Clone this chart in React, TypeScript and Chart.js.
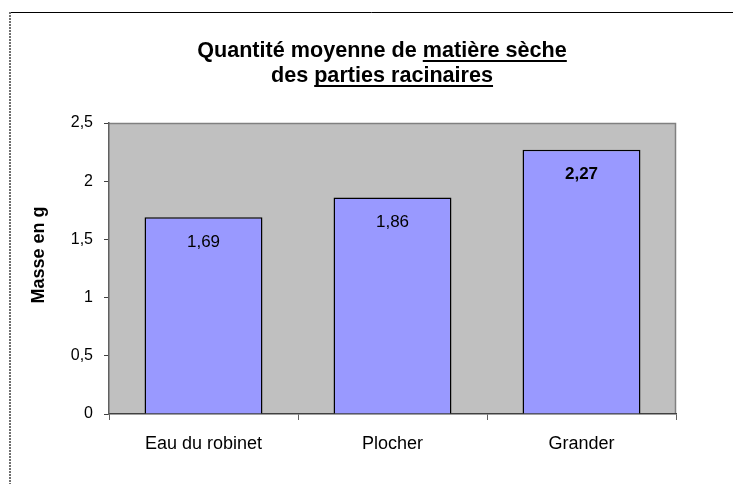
import React, { useEffect, useRef } from "react";
import { Chart, registerables } from "chart.js";

Chart.register(...registerables);

const categories = ["Eau du robinet", "Plocher", "Grander"];
const values = [1.69, 1.86, 2.27];
const valueLabels = ["1,69", "1,86", "2,27"];
const valueLabelBold = [false, false, true];
const yTickValues = [0, 0.5, 1, 1.5, 2, 2.5];
const yTickLabels = ["0", "0,5", "1", "1,5", "2", "2,5"];
const titleLine1 = [
  { text: "Quantité moyenne de ", underline: false },
  { text: "matière sèche", underline: true },
];
const titleLine2 = [
  { text: "des ", underline: false },
  { text: "parties racinaires", underline: true },
];
const yAxisTitle = "Masse en g";

const FONT = "'Liberation Sans', Arial, sans-serif";

const framePlugin = {
  id: "frame",
  beforeDraw(chart: any) {
    const { ctx, chartArea, width, height } = chart;
    ctx.save();
    ctx.fillStyle = "#ffffff";
    ctx.fillRect(0, 0, width, height);
    // outer frame: top black line, left gray dotted line
    ctx.strokeStyle = "#000000";
    ctx.lineWidth = 1;
    ctx.beginPath();
    ctx.moveTo(10, 12.5);
    ctx.lineTo(width, 12.5);
    ctx.stroke();
    ctx.strokeStyle = "#707070";
    ctx.lineWidth = 2;
    ctx.setLineDash([2, 1]);
    ctx.beginPath();
    ctx.moveTo(10, 12);
    ctx.lineTo(10, height);
    ctx.stroke();
    ctx.setLineDash([]);
    // plot area background
    ctx.fillStyle = "#C0C0C0";
    ctx.fillRect(chartArea.left, chartArea.top, chartArea.right - chartArea.left, chartArea.bottom - chartArea.top);
    ctx.strokeStyle = "#808080";
    ctx.lineWidth = 1.5;
    ctx.beginPath();
    ctx.moveTo(chartArea.left, chartArea.top + 0.5);
    ctx.lineTo(chartArea.right - 0.5, chartArea.top + 0.5);
    ctx.lineTo(chartArea.right - 0.5, chartArea.bottom);
    ctx.stroke();
    ctx.restore();
  },
};

function drawTitleLine(ctx: any, parts: { text: string; underline: boolean }[], cx: number, baseline: number) {
  const widths = parts.map((p) => ctx.measureText(p.text).width);
  const total = widths.reduce((a, b) => a + b, 0);
  let x = cx - total / 2;
  parts.forEach((p, i) => {
    ctx.fillText(p.text, x, baseline);
    if (p.underline) {
      ctx.fillRect(x, baseline + 3, widths[i], 2);
    }
    x += widths[i];
  });
}

const textPlugin = {
  id: "texts",
  afterDatasetsDraw(chart: any) {
    const { ctx } = chart;
    const meta = chart.getDatasetMeta(0);
    ctx.save();
    ctx.fillStyle = "#000000";
    ctx.textAlign = "center";
    ctx.textBaseline = "middle";
    meta.data.forEach((bar: any, i: number) => {
      ctx.font = `${valueLabelBold[i] ? "bold " : ""}17px ${FONT}`;
      ctx.fillText(valueLabels[i], bar.x, bar.y + 25);
    });
    ctx.restore();
  },
  afterDraw(chart: any) {
    const { ctx } = chart;
    ctx.save();
    ctx.fillStyle = "#000000";
    ctx.textAlign = "left";
    ctx.textBaseline = "alphabetic";
    ctx.font = `bold 21.6px ${FONT}`;
    drawTitleLine(ctx, titleLine1, 382, 57);
    drawTitleLine(ctx, titleLine2, 382, 82);
    // y axis title
    ctx.translate(39, 255);
    ctx.rotate(-Math.PI / 2);
    ctx.textAlign = "center";
    ctx.textBaseline = "middle";
    ctx.font = `bold 18px ${FONT}`;
    ctx.fillText(yAxisTitle, 0, 0);
    ctx.restore();
  },
};

export default function App() {
  const canvasRef = useRef<HTMLCanvasElement | null>(null);

  useEffect(() => {
    const canvas = canvasRef.current;
    if (!canvas) return;
    const chart = new Chart(canvas, {
      type: "bar",
      data: {
        labels: categories,
        datasets: [
          {
            data: values,
            backgroundColor: "#9999FF",
            borderColor: "#000000",
            borderWidth: 1.5,
            barPercentage: 0.624,
            categoryPercentage: 1,
          },
        ],
      },
      options: {
        responsive: false,
        animation: false,
        devicePixelRatio: 1,
        layout: { padding: { left: 0, top: 123, right: 57, bottom: 0 } },
        plugins: {
          legend: { display: false },
          title: { display: false },
          tooltip: { enabled: false },
        },
        scales: {
          x: {
            type: "category",
            offset: true,
            grid: {
              display: true,
              offset: true,
              drawOnChartArea: false,
              drawTicks: true,
              tickLength: 6,
              color: "#606060",
            },
            border: { display: true, color: "#404040", width: 1.5 },
            ticks: {
              color: "#000000",
              font: { family: FONT, size: 18 },
              padding: 13,
              maxRotation: 0,
            },
            afterFit(scale: any) {
              scale.height = 70;
            },
          },
          y: {
            min: 0,
            max: 2.5,
            afterBuildTicks(scale: any) {
              scale.ticks = yTickValues.map((v) => ({ value: v }));
            },
            grid: {
              display: true,
              drawOnChartArea: false,
              drawTicks: true,
              tickLength: 5,
              color: "#404040",
            },
            border: { display: true, color: "#606060", width: 1.5 },
            ticks: {
              color: "#000000",
              font: { family: FONT, size: 16 },
              padding: 11,
              callback: (value: any) => {
                const i = yTickValues.indexOf(Number(value));
                return i >= 0 ? yTickLabels[i] : "";
              },
            },
            afterFit(scale: any) {
              scale.width = 109;
            },
          },
        },
      },
      plugins: [framePlugin, textPlugin],
    });
    return () => chart.destroy();
  }, []);

  return (
    <div style={{ position: "absolute", left: 0, top: 0, width: 733, height: 484 }}>
      <canvas ref={canvasRef} width={733} height={484} />
    </div>
  );
}
